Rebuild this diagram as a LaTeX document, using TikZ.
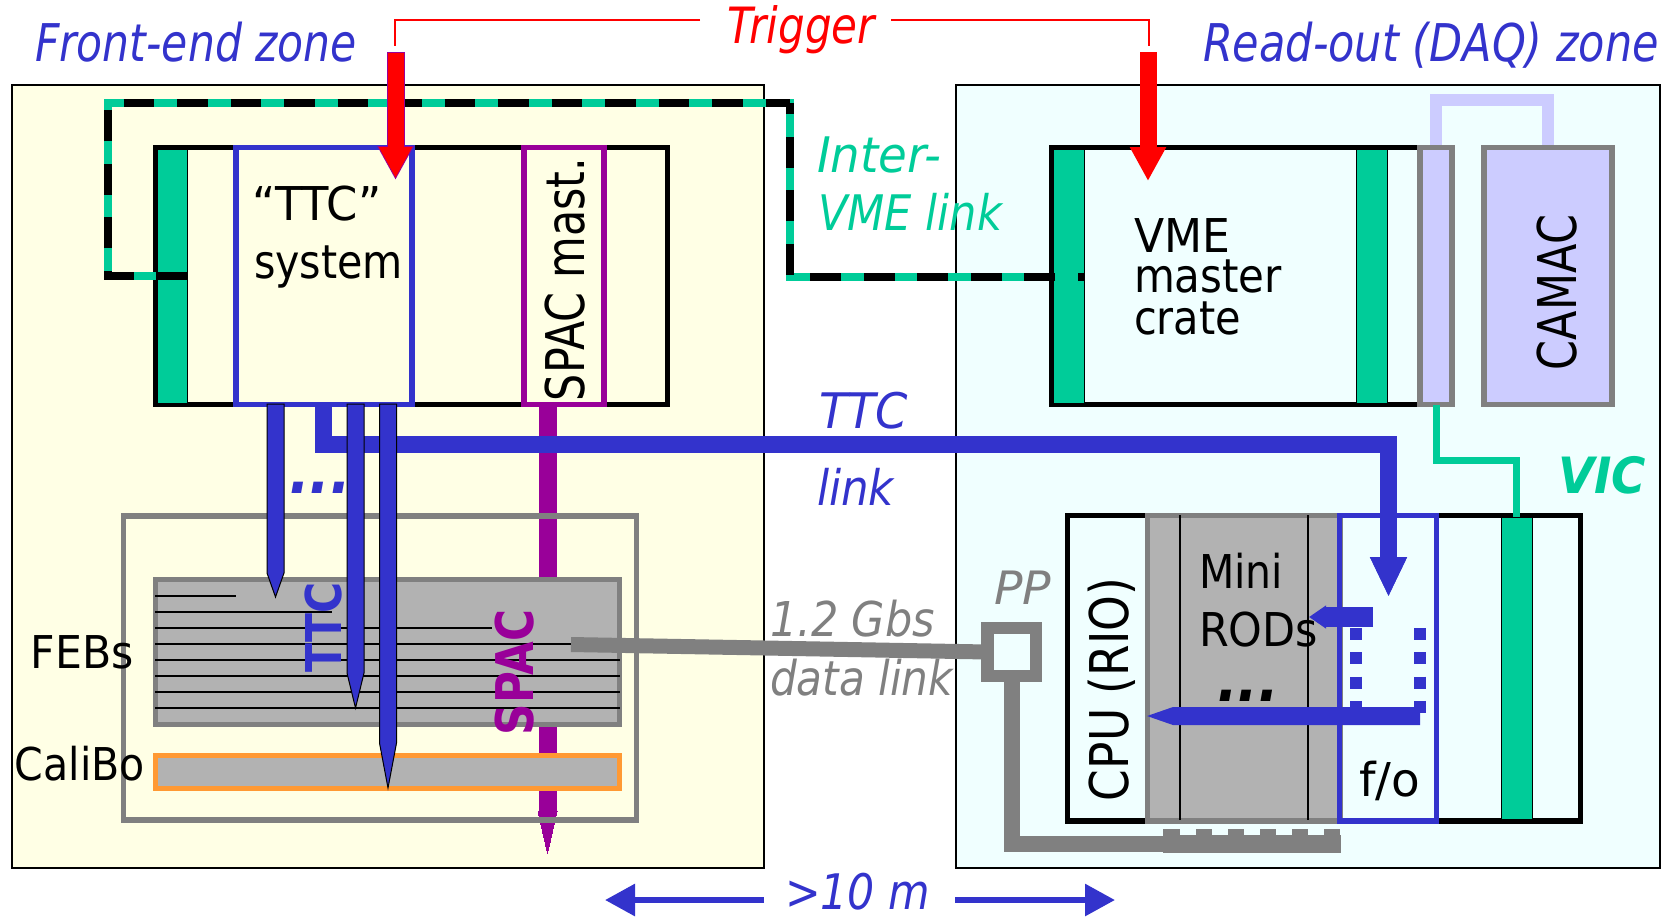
\documentclass[tikz,border=0pt]{standalone}
\usepackage{fontspec}
\usepackage{graphicx}
\setmainfont{DejaVu Sans}
\usetikzlibrary{arrows.meta,calc}
\definecolor{tblue}{HTML}{3333CC}
\definecolor{vgreen}{HTML}{00CC99}
\definecolor{purp}{HTML}{990099}
\definecolor{grayd}{HTML}{808080}
\definecolor{grayl}{HTML}{B2B2B2}
\definecolor{lav}{HTML}{CCCCFF}
\definecolor{org}{HTML}{FF9933}
\definecolor{lyel}{HTML}{FFFFE5}
\definecolor{lcya}{HTML}{F0FFFF}
\newcommand\rbox[6]{\node[rectangle,inner sep=0pt,outer sep=0pt,minimum width={(#4-#2)*0.5pt},minimum height={(#5-#3)*0.5pt},#6] (#1) at ({(#2+#4)/2},{(#3+#5)/2}) {};}
% name, x, y, style, size in pt, target width in px, text
\newcommand\lbl[7]{\node[inner sep=0pt,outer sep=0pt,anchor=base west,#4,font=\fontsize{#5pt}{#5pt}\selectfont] (#1) at (#2,#3) {\resizebox{\dimexpr #6pt/2\relax}{\height}{#7}};}
\newcommand\stemarrow[3]{\draw[stemline] (#1) ++(-8.5,0) -- ++(0,#2) -- ++(8.5,#3) -- ++(8.5,-#3) -- ++(0,-#2) -- cycle;}
\tikzset{
  panel/.style={draw=black,line width=1pt},
  thick5/.style={draw,line width=2.8pt},
  slotbar/.style={fill=vgreen,draw=black,line width=0.5pt},
  febline/.style={draw=black,line width=0.7pt},
  stemline/.style={fill=tblue,draw=black,line width=0.5pt},
  trigline/.style={draw=red,line width=0.75pt},
  glink/.style={draw=vgreen,line width=3.75pt},
  klink/.style={draw=black,line width=3.75pt,dash pattern=on 15.3pt off 11.45pt},
  boxline/.style={line width=2.8pt},
}
\begin{document}
\begin{tikzpicture}[x=0.5pt,y=-0.5pt]
\useasboundingbox (0,0) rectangle (1673,917);
% panels
\rbox{front}{11.5}{84.5}{764}{868}{panel,fill=lyel}
\rbox{readout}{955.5}{84.5}{1660}{868}{panel,fill=lcya}
% crates
\rbox{crateA}{155.5}{147.5}{667.5}{404.5}{thick5}
\rbox{slotA}{157.5}{149.5}{187}{403}{slotbar}
\rbox{crateB}{1052}{147.5}{1425}{404.5}{thick5}
\rbox{slotB}{1053.5}{149.5}{1084}{403}{slotbar}
\rbox{slotC}{1356}{149.5}{1387}{403}{slotbar}
% inter-VME link
\coordinate (ivA) at (187,276);
\coordinate (ivB) at (108,103);
\coordinate (ivC) at (790,103);
\coordinate (ivD) at (1084,277);
\draw[glink] (ivA) -| (ivB) -- (ivC) |- (ivD);
\draw[klink] (ivA) -| (ivB) -- (ivC);
\draw[klink,dash phase=12.25pt] (ivD) -| (ivC);
% CAMAC & VIC
\coordinate (camtop) at (1436,100);
\draw[lav,line width=6pt] (1436,145) -- (camtop) -| (1548,145);
\rbox{vicbox}{1420}{147.5}{1452}{404.5}{draw=grayd,boxline,fill=lav}
\rbox{camac}{1484}{147.5}{1612}{404.5}{draw=grayd,boxline,fill=lav}
% crate 2
\rbox{crateC}{1067.5}{515.5}{1580.5}{821}{thick5}
\rbox{rods}{1147.5}{515.5}{1340}{821}{draw=grayd,boxline,fill=grayl}
\draw[febline] (1180,515) -- (1180,820);
\draw[febline] (1308,515) -- (1308,820);
\rbox{slotD}{1501}{517}{1532}{819}{slotbar}
% VIC line
\coordinate (vicbend) at (1516.5,460);
\draw[vgreen,line width=3.5pt] (vicbox.south) |- (vicbend) -- (slotD.north);
% SPAC stem
\coordinate (spacstart) at (547.5,407);
\draw[purp,fill=purp,line width=0pt] (spacstart) ++(-8.5,0) -- ++(0,404) -- ++(-1,0) -- ++(9.5,42) -- ++(9.5,-42) -- ++(-1,0) -- ++(0,-404) -- cycle;
% TTC and SPAC boxes
\rbox{ttcbox}{236}{147.5}{412}{404.5}{draw=tblue,boxline}
\rbox{spacbox}{524}{147.5}{604}{404.5}{draw=purp,boxline}
% FEB area
\rbox{febarea}{123.5}{516}{636.5}{820}{draw=grayd,boxline}
\rbox{feb}{155.5}{579.5}{619.5}{724.5}{draw=grayd,boxline,fill=grayl}
\rbox{calibo}{155.5}{755.5}{619.5}{788.5}{draw=org,boxline,fill=grayl}
\draw[febline] (155,596) -- (236,596);
\draw[febline] (155,612) -- (332,612);
\draw[febline] (155,628) -- (492,628);
\draw[febline] (155,644) -- (571,644);
\draw[febline] (155,660) -- (620,660);
\draw[febline] (155,676) -- (620,676);
\draw[febline] (155,692) -- (620,692);
\draw[febline] (155,708) -- (620,708);
% TTC link
\coordinate (linkstart) at (323.5,404);
\coordinate (linkcorner) at (1388.5,444);
\coordinate (linkend) at (1388.5,597);
\draw[tblue,line width=8.5pt,-{Triangle[length=20pt,width=17pt]}] (linkstart) |- (linkcorner) -- (linkend);
% labels under stems
\lbl{ttcv}{341}{672}{rotate=90,text=tblue}{24.7}{90}{\bfseries TTC}
% stems
\coordinate (stemA) at (275.5,404);
\coordinate (stemB) at (355.5,404);
\coordinate (stemC) at (388,404);
\stemarrow{stemA}{169}{24}
\stemarrow{stemB}{269}{35}
\stemarrow{stemC}{339}{45}
\lbl{spacv}{533}{735}{rotate=90,text=purp}{26}{125}{\bfseries SPAC}
% data link, PP
\rbox{pp}{987.5}{628}{1036}{676}{draw=grayd,line width=6.25pt,fill=lcya}
\coordinate (datastart) at (571,644.5);
\draw[grayd,line width=7.5pt] (datastart) -- (pp.west);
\coordinate (combtop) at (1163,844);
\draw[grayd,line width=8pt] (pp.south) |- (combtop);
\fill[grayd] (1163,835) rectangle (1341,853);
\fill[grayd] (1163,829) rectangle (1180,836);
\fill[grayd] (1196,829) rectangle (1212,836);
\fill[grayd] (1228,829) rectangle (1244,836);
\fill[grayd] (1260,829) rectangle (1276,836);
\fill[grayd] (1292,829) rectangle (1308,836);
\fill[grayd] (1324,829) rectangle (1340,836);
% f/o box
\rbox{fobox}{1339.5}{515.5}{1436.5}{821}{draw=tblue,boxline}
\draw[tblue,line width=6pt,dash pattern=on 6pt off 6.15pt] (1356,628) -- (1356,713);
\draw[tblue,line width=6pt,dash pattern=on 6pt off 6.15pt] (1420,628) -- (1420,713);
\coordinate (loopA) at (1373,617);
\coordinate (loopB) at (1309,617);
\draw[tblue,line width=10pt,-{Triangle[length=8.5pt,width=11pt]}] (loopA) -- (loopB);
\coordinate (cpuA) at (1420,716);
\fill[tblue] (cpuA) ++(0,-9) -- ++(-247,0) -- ++(-26,9) -- ++(26,9) -- ++(247,0) -- cycle;
\draw[tblue,line width=8.5pt] (1388.5,500) -- (1388.5,540);
\draw[tblue,line width=8.5pt,-{Triangle[length=20pt,width=17pt]}] (1388.5,530) -- (linkend);
% Trigger
\lbl{trig}{727}{43}{text=red}{25}{148}{\itshape Trigger}
\coordinate (trigL) at (700,20);
\coordinate (trigLd) at (395,46);
\coordinate (trigR) at (891,20);
\coordinate (trigRd) at (1149,46);
\draw[trigline] (trigL) -| (trigLd);
\draw[trigline] (trigR) -| (trigRd);
\coordinate (redAs) at (395.5,52);
\coordinate (redAe) at (395.5,180);
\coordinate (redBs) at (1148,52);
\coordinate (redBe) at (1148,181);
\draw[purp,line width=9pt,-{Triangle[length=17pt,width=17pt]}] (redAs) -- (redAe);
\draw[red,line width=8pt,-{Triangle[length=15.5pt,width=15.5pt]}] (395.5,53) -- (395.5,178);
\draw[red,line width=8.5pt,-{Triangle[length=17pt,width=17pt]}] (redBs) -- (redBe);
% Bottom arrows
\coordinate (meterLs) at (764,900);
\coordinate (meterLe) at (605,900);
\coordinate (meterRs) at (955,900);
\coordinate (meterRe) at (1115,900);
\draw[tblue,line width=3pt,-{Triangle[length=15pt,width=15.5pt]}] (meterLs) -- (meterLe);
\draw[tblue,line width=3pt,-{Triangle[length=15pt,width=15.5pt]}] (meterRs) -- (meterRe);
% Text
\lbl{frontlbl}{35}{61}{text=tblue}{26}{322}{\itshape Front-end zone}
\lbl{readlbl}{1203}{61}{text=tblue}{26}{456}{\itshape Read-out (DAQ) zone}
\lbl{interA}{817}{172}{text=vgreen}{24.5}{124}{\itshape Inter-}
\lbl{interB}{818}{230}{text=vgreen}{24.5}{184}{\itshape VME link}
\lbl{ttclink}{819}{428}{text=tblue}{24.5}{89}{\itshape TTC}
\lbl{ttclinkB}{817}{505}{text=tblue}{24.5}{77}{\itshape link}
\lbl{viclbl}{1558}{493}{text=vgreen}{25}{88}{\bfseries\itshape VIC}
\lbl{ttctext}{252}{220}{}{23.3}{130}{“TTC”}
\lbl{systext}{254}{278}{}{23.3}{149}{system}
\lbl{spacm}{584}{401}{rotate=90}{26.7}{243}{SPAC mast.}
\lbl{vmeA}{1134}{252}{}{23.3}{96}{VME}
\lbl{vmeB}{1134}{292}{}{23.3}{148}{master}
\lbl{vmeC}{1134}{334}{}{23.3}{107}{crate}
\lbl{camaclbl}{1576}{370}{rotate=90}{26.7}{155}{CAMAC}
\lbl{febs}{31}{668}{}{22.6}{103}{FEBs}
\lbl{calib}{15}{780}{}{22.6}{130}{CaliBo}
\lbl{ppl}{994}{604}{text=grayd}{23}{57}{\itshape PP}
\lbl{gbs}{770}{636}{text=grayd}{24}{165}{\itshape 1.2 Gbs}
\lbl{dlink}{770}{695}{text=grayd}{24}{183}{\itshape data link}
\lbl{minia}{1199}{588}{}{23.3}{84}{Mini}
\lbl{minib}{1199}{646}{}{23.3}{119}{RODs}
\lbl{fol}{1359}{796}{}{23.3}{61}{f/o}
\lbl{cpul}{1128}{801}{rotate=90}{26.7}{223}{CPU (RIO)}
\lbl{meters}{785}{909}{text=tblue}{24.5}{145}{\itshape >10 m}
\lbl{dotsA}{289}{493}{text=tblue}{30}{62}{\bfseries\itshape ...}
\lbl{dotsB}{1217}{701}{text=black}{30}{62}{\bfseries\itshape ...}
\end{tikzpicture}
\end{document}
